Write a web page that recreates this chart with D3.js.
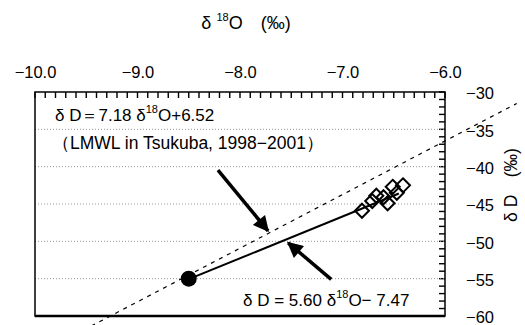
<!DOCTYPE html>
<html><head><meta charset="utf-8">
<script src="https://cdn.jsdelivr.net/npm/d3@7"></script>
</head>
<body style="margin:0"><svg id="c" width="525" height="325" font-family="Liberation Sans, Arial, sans-serif"></svg>
<script>
// data
const xTicks = [-10, -9, -8, -7, -6];
const yTicks = [-30, -35, -40, -45, -50, -55, -60];
const gridValues = [-35, -40, -45, -50, -55];
const sampleO = [-6.81, -6.71, -6.67, -6.60, -6.56, -6.51, -6.41, -6.47];
const sampleD = [-45.9, -44.6, -43.9, -44.1, -44.9, -42.7, -42.5, -43.5];
const meanPoint = [-8.5, -55.0];
const lmwl = {slope: 7.18, intercept: 6.52, from: -9.45, to: -5.3};
const reg = {slope: 5.60, intercept: -7.47, from: -8.5, to: -6.45};
const arrows = [
  {from: [-8.215, -40.45], to: [-7.727, -48.6]},
  {from: [-7.11, -55.1], to: [-7.53, -50.2]}
];

const svg = d3.select("#c");
const x = d3.scaleLinear([-10, -6], [35, 445]);
const y = d3.scaleLinear([-60, -30], [316, 92]);

// minor ticks drawn as filled rects: top every 0.1, right every 1, inward
const minorX = d3.range(0, 41).map(i => -10 + i * 0.1);
const minorY = d3.range(0, 31).map(i => -60 + i);
svg.append("g").selectAll("rect").data(minorX).join("rect")
  .attr("x", d => x(d) - 0.7).attr("y", y(-30))
  .attr("width", 1.4).attr("height", 6).attr("fill", "#000");
svg.append("g").selectAll("rect").data(minorY).join("rect")
  .attr("x", x(-6) - 6).attr("y", d => y(d) - 0.7)
  .attr("width", 6).attr("height", 1.4).attr("fill", "#000");

// gridlines
svg.append("g").selectAll("line").data(gridValues).join("line")
  .attr("x1", x(-10)).attr("x2", x(-6))
  .attr("y1", d => y(d)).attr("y2", d => y(d))
  .attr("stroke", "#999").attr("stroke-width", 1).attr("stroke-dasharray", "1,2");

// frame
svg.append("rect").attr("x", x(-10)).attr("y", y(-30))
  .attr("width", x(-6) - x(-10)).attr("height", y(-60) - y(-30))
  .attr("fill", "none").attr("stroke", "#000").attr("stroke-width", 1.5);
svg.append("line").attr("x1", x(-10)).attr("x2", x(-6)).attr("y1", y(-60)).attr("y2", y(-60))
  .attr("stroke", "#000").attr("stroke-width", 2.5);

// top labels
const fmtX = d => "\u2212" + Math.abs(d).toFixed(1);
svg.append("g").attr("transform", `translate(0,81)`)
  .call(d3.axisTop(x).tickValues(xTicks).tickSize(0).tickPadding(3).tickFormat(fmtX))
  .call(g => g.select(".domain").remove())
  .call(g => g.selectAll(".tick line").remove())
  .selectAll("text").attr("font-size", 16.5).attr("fill", "#000")
  .attr("font-family", "Liberation Sans, Arial, sans-serif");
// right labels
svg.append("g").attr("transform", `translate(${x(-6)},0)`)
  .call(d3.axisRight(y).tickValues(yTicks).tickSize(0).tickPadding(21).tickFormat(d => "\u2212" + Math.abs(d)))
  .call(g => g.select(".domain").remove())
  .call(g => g.selectAll(".tick line").remove())
  .selectAll("text").attr("font-size", 16.5).attr("fill", "#000").attr("dy", "0.42em")
  .attr("font-family", "Liberation Sans, Arial, sans-serif");

// axis titles
const tt = svg.append("text").attr("x", 246).attr("y", 29).attr("text-anchor", "middle").attr("font-size", 18);
tt.append("tspan").text("δ ");
tt.append("tspan").attr("font-size", 11).attr("dy", -8).text("18");
tt.append("tspan").attr("dy", 8).text("O\u2003(‰)");

svg.append("text").attr("transform", "translate(517,185) rotate(-90)")
  .attr("text-anchor", "middle").attr("font-size", 17.5).text("δ D\u2003(‰)");

// LMWL dashed line
svg.append("line")
  .attr("x1", x(lmwl.from)).attr("y1", y(lmwl.slope * lmwl.from + lmwl.intercept))
  .attr("x2", x(lmwl.to)).attr("y2", y(lmwl.slope * lmwl.to + lmwl.intercept))
  .attr("stroke", "#000").attr("stroke-width", 1.2).attr("stroke-dasharray", "4,5");

// regression line
svg.append("line")
  .attr("x1", x(reg.from)).attr("y1", y(reg.slope * reg.from + reg.intercept))
  .attr("x2", x(reg.to)).attr("y2", y(reg.slope * reg.to + reg.intercept))
  .attr("stroke", "#000").attr("stroke-width", 2);

// diamonds
svg.append("g").selectAll("path").data(sampleO.map((o, i) => [o, sampleD[i]])).join("path")
  .attr("d", d3.symbol(d3.symbolDiamond2, 125))
  .attr("transform", d => `translate(${x(d[0])},${y(d[1])})`)
  .attr("fill", "none").attr("stroke", "#000").attr("stroke-width", 2);

// mean point
svg.append("circle").attr("cx", x(meanPoint[0])).attr("cy", y(meanPoint[1])).attr("r", 8).attr("fill", "#000");

// arrows
const defs = svg.append("defs");
defs.append("marker").attr("id", "ah").attr("viewBox", "0 0 10 10").attr("refX", 9).attr("refY", 5)
  .attr("markerWidth", 5).attr("markerHeight", 4.5).attr("markerUnits", "strokeWidth").attr("orient", "auto")
  .append("path").attr("d", "M0,0L10,5L0,10Z").attr("fill", "#000");
svg.append("g").selectAll("line").data(arrows).join("line")
  .attr("x1", d => x(d.from[0])).attr("y1", d => y(d.from[1]))
  .attr("x2", d => x(d.to[0])).attr("y2", d => y(d.to[1]))
  .attr("stroke", "#000").attr("stroke-width", 3.5).attr("marker-end", "url(#ah)");

// annotations
const a1 = svg.append("text").attr("x", 55).attr("y", 121).attr("font-size", 17);
a1.append("tspan").text("δ D＝7.18 δ");
a1.append("tspan").attr("font-size", 11).attr("dy", -8).text("18");
a1.append("tspan").attr("dy", 8).text("O+6.52");
svg.append("text").attr("x", 52).attr("y", 149).attr("font-size", 17.5)
  .text("（LMWL in Tsukuba, 1998−2001）");
const a3 = svg.append("text").attr("x", 243).attr("y", 306).attr("font-size", 17);
a3.append("tspan").text("δ D = 5.60 δ");
a3.append("tspan").attr("font-size", 11).attr("dy", -8).text("18");
a3.append("tspan").attr("dy", 8).text("O\u2212 7.47");
</script></body></html>
